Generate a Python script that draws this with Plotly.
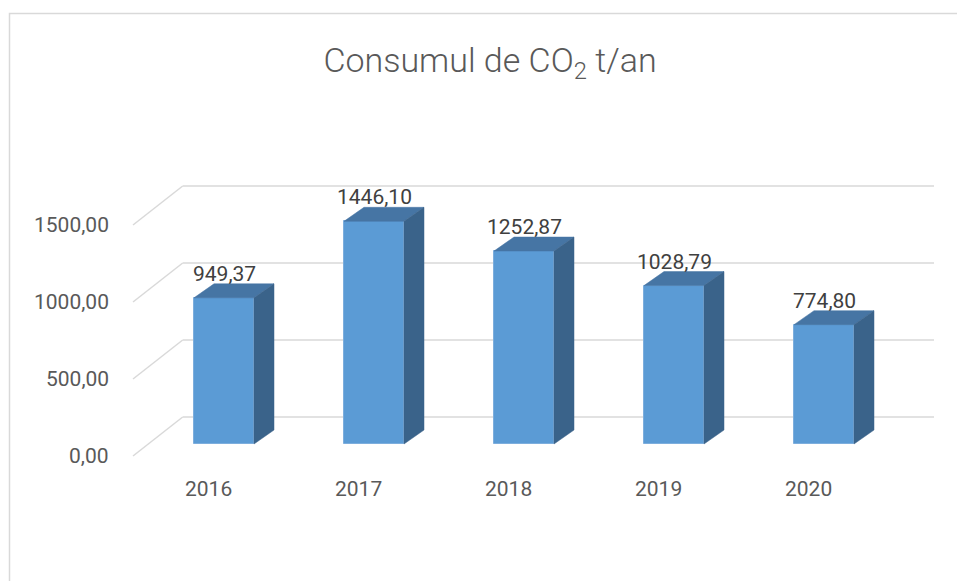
import plotly.graph_objects as go

# ---- data ----
years = ["2016", "2017", "2018", "2019", "2020"]
values = [949.37, 1446.10, 1252.87, 1028.79, 774.80]
value_labels = ["949,37", "1446,10", "1252,87", "1028,79", "774,80"]
tick_values = [0, 500, 1000, 1500]
tick_labels = ["0,00", "500,00", "1000,00", "1500,00"]
title_text = "Consumul de CO<sub>2</sub> t/an"

# ---- geometry (axis units) ----
W, H = 957, 581
PX_X = 150.0          # pixels per category
PX_Y = 0.154          # pixels per value unit
X0_PX = 224.0         # pixel x of first category centre
Y0_PX = 444.0         # pixel y of value 0 on bar front plane

bar_w = 0.4
side_dx = 20 / PX_X           # depth of bar (x)
side_dy = 14 / PX_Y           # depth of bar (y)
front_dx = -15.3 / PX_X       # front edge of floor
front_dy = -12 / PX_Y
wall_dx = 34.4 / PX_X         # back wall
wall_dy = 27 / PX_Y
wall_right = (934 - X0_PX) / PX_X
label_dx = -16 / PX_X

front_col = "#5B9BD5"
top_col = "#4675A4"
side_col = "#3A638A"
grid_col = "#D9D9D9"

fig = go.Figure()

# gridlines (front diagonal + back wall horizontal)
left_x = -0.6067
shapes = []
for v in tick_values:
    shapes.append(dict(type="line", xref="x", yref="y", layer="below",
                       x0=left_x, y0=v + front_dy, x1=left_x + (wall_dx - front_dx), y1=v + wall_dy,
                       line=dict(color=grid_col, width=1.5)))
    shapes.append(dict(type="line", xref="x", yref="y", layer="below",
                       x0=left_x + (wall_dx - front_dx), y0=v + wall_dy, x1=wall_right, y1=v + wall_dy,
                       line=dict(color=grid_col, width=1.5)))
# chart frame
shapes.append(dict(type="rect", xref="paper", yref="paper", layer="below",
                   x0=9.5 / W, x1=1.05, y0=-0.05, y1=1 - 13.5 / H,
                   line=dict(color="#D9D9D9", width=1.5), fillcolor="rgba(0,0,0,0)"))

# bars: front faces
xs = list(range(len(years)))
fig.add_trace(go.Bar(x=xs, y=values, width=bar_w, base=0,
                     marker=dict(color=front_col, line=dict(color="#7DAEDD", width=1)),
                     hoverinfo="skip", showlegend=False))

# top and side faces
for i, v in enumerate(values):
    xl, xr = i - bar_w / 2, i + bar_w / 2
    fig.add_trace(go.Scatter(
        x=[xl, xr, xr + side_dx, xl + side_dx, xl],
        y=[v, v, v + side_dy, v + side_dy, v],
        fill="toself", fillcolor=top_col, mode="lines",
        line=dict(color=top_col, width=0.5), hoverinfo="skip", showlegend=False))
    fig.add_trace(go.Scatter(
        x=[xr, xr + side_dx, xr + side_dx, xr, xr],
        y=[0, side_dy, v + side_dy, v, 0],
        fill="toself", fillcolor=side_col, mode="lines",
        line=dict(color=side_col, width=0.5), hoverinfo="skip", showlegend=False))

annotations = []
# data labels
for i, (v, lab) in enumerate(zip(values, value_labels)):
    annotations.append(dict(x=i, y=v + 24 / PX_Y, xref="x", yref="y", text=lab,
                            showarrow=False, xanchor="center", yanchor="middle",
                            font=dict(family="Roboto", size=21, color="#404040")))
# category labels
for i, yl in enumerate(years):
    annotations.append(dict(x=i + label_dx, y=(Y0_PX - 489) / PX_Y, xref="x", yref="y", text=yl,
                            showarrow=False, xanchor="center", yanchor="middle",
                            font=dict(family="Roboto", size=21, color="#595959")))
# value axis labels
for v, lab in zip(tick_values, tick_labels):
    annotations.append(dict(x=(111 - X0_PX) / PX_X, y=v + front_dy, xref="x", yref="y", text=lab,
                            showarrow=False, xanchor="right", yanchor="middle",
                            font=dict(family="Roboto", size=21, color="#595959")))

fig.update_layout(
    width=W, height=H,
    margin=dict(l=0, r=0, t=0, b=0),
    paper_bgcolor="white", plot_bgcolor="white",
    title=dict(text=title_text, x=490 / W, xanchor="center", y=1 - 60 / H, yanchor="middle",
               font=dict(family="Roboto", size=34, color="#595959", weight=300)),
    xaxis=dict(range=[-X0_PX / PX_X, (W - X0_PX) / PX_X], visible=False, fixedrange=True),
    yaxis=dict(range=[(Y0_PX - H) / PX_Y, Y0_PX / PX_Y], visible=False, fixedrange=True),
    shapes=shapes, annotations=annotations,
    bargap=0,
)

fig.write_html("out.html", config={"displayModeBar": False},
               post_script="document.body.style.margin='0';document.body.style.overflow='hidden';")
